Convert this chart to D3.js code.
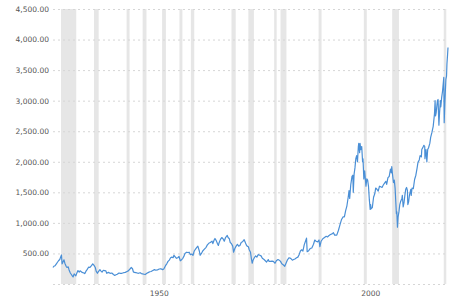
<!DOCTYPE html>
<html>
<head>
<meta charset="utf-8">
<script src="https://cdn.jsdelivr.net/npm/d3@7"></script>
<style>
  body { margin: 0; background: #fff; }
  .axis text { font-family: "DejaVu Sans", Verdana, sans-serif; font-size: 7.5px; fill: #555; }
  .grid line { stroke: #d6d6d6; stroke-dasharray: 2,3; }
</style>
</head>
<body>
<svg id="chart" width="474" height="299"></svg>
<script>
// S&P 500 inflation adjusted (roughly monthly-ish)
const priceYears = [
  1927.7,1927.9,1928.2,1928.5,1928.8,1929.0,1929.3,1929.5,1929.7,1929.85,1930.0,1930.3,1930.5,1930.8,
  1931.0,1931.3,1931.5,1931.8,1932.0,1932.3,1932.45,1932.7,1932.9,1933.1,1933.4,1933.6,1933.9,1934.1,
  1934.4,1934.6,1935.0,1935.2,1935.5,1935.8,1936.1,1936.4,1936.8,1937.1,1937.4,1937.7,1937.9,1938.2,
  1938.4,1938.8,1939.0,1939.3,1939.6,1939.9,1940.2,1940.4,1940.8,1941.2,1941.6,1942.0,1942.3,1942.6,
  1942.9,1943.3,1943.6,1944.0,1944.4,1944.8,1945.2,1945.5,1945.9,1946.2,1946.5,1946.7,1946.9,1947.3,
  1947.6,1947.9,1948.3,1948.6,1948.9,1949.2,1949.5,1949.9,1950.3,1950.6,1950.9,1951.3,1951.7,1952.0,
  1952.4,1952.8,1953.2,1953.6,1953.9,1954.3,1954.6,1954.9,1955.2,1955.5,1955.8,1956.1,1956.3,1956.6,
  1956.9,1957.2,1957.5,1957.8,1958.0,1958.4,1958.7,1958.9,1959.3,1959.6,1959.9,1960.2,1960.5,1960.8,
  1961.1,1961.4,1961.7,1961.95,1962.3,1962.5,1962.8,1963.1,1963.5,1963.9,1964.2,1964.6,1964.9,1965.3,
  1965.5,1965.8,1966.0,1966.3,1966.6,1966.8,1967.0,1967.3,1967.6,1967.9,1968.2,1968.5,1968.9,1969.1,
  1969.4,1969.6,1969.9,1970.2,1970.4,1970.7,1971.0,1971.3,1971.6,1971.9,1972.2,1972.5,1972.9,1973.1,
  1973.4,1973.6,1973.9,1974.1,1974.4,1974.6,1974.8,1975.0,1975.3,1975.6,1975.9,1976.2,1976.6,1976.9,
  1977.2,1977.6,1977.9,1978.2,1978.6,1978.8,1979.1,1979.5,1979.8,1980.2,1980.5,1980.9,1981.2,1981.5,
  1981.8,1982.2,1982.5,1982.8,1983.1,1983.5,1983.9,1984.3,1984.6,1984.9,1985.3,1985.6,1985.9,1986.2,
  1986.5,1986.8,1987.1,1987.4,1987.65,1987.8,1988.1,1988.5,1988.9,1989.3,1989.6,1989.9,1990.3,1990.6,
  1990.8,1991.1,1991.5,1991.9,1992.3,1992.6,1992.9,1993.3,1993.7,1994.0,1994.3,1994.8,1995.2,1995.6,
  1995.9,1996.3,1996.6,1996.9,1997.2,1997.5,1997.7,1997.85,1998.1,1998.4,1998.6,1998.7,1998.9,1999.1,
  1999.3,1999.5,1999.7,1999.9,2000.0,2000.2,2000.3,2000.5,2000.7,2000.9,2001.0,2001.2,2001.4,2001.7,
  2001.9,2002.1,2002.3,2002.5,2002.7,2002.8,2002.9,2003.2,2003.5,2003.8,2004.0,2004.3,2004.6,2004.9,
  2005.2,2005.5,2005.8,2006.1,2006.4,2006.6,2006.9,2007.2,2007.5,2007.7,2007.8,2008.0,2008.2,2008.4,
  2008.6,2008.75,2008.9,2009.0,2009.15,2009.3,2009.5,2009.7,2009.9,2010.2,2010.3,2010.5,2010.7,2010.9,
  2011.1,2011.3,2011.5,2011.6,2011.8,2012.0,2012.3,2012.4,2012.6,2012.9,2013.2,2013.5,2013.8,2014.0,
  2014.3,2014.5,2014.8,2014.9,2015.2,2015.4,2015.6,2015.65,2015.9,2016.1,2016.3,2016.5,2016.8,2017.0,
  2017.3,2017.6,2017.9,2018.05,2018.15,2018.3,2018.6,2018.75,2018.95,2019.1,2019.3,2019.4,2019.6,2019.8,
  2020.0,2020.1,2020.2,2020.35,2020.5,2020.6,2020.75,2020.85,2021.0,2021.1
];
const priceValues = [
  270,290,300,330,360,380,400,440,475,330,350,395,340,290,
  270,280,230,180,160,130,115,165,150,135,190,220,195,215,
  200,190,180,170,210,240,275,270,300,330,305,270,210,175,
  200,235,215,195,225,220,215,175,190,175,180,155,140,150,
  160,180,175,175,185,190,205,215,245,270,250,200,190,185,
  180,175,185,170,165,160,155,175,190,200,205,220,235,225,
  230,245,250,235,245,300,330,370,390,430,440,430,470,445,
  420,430,450,380,390,420,460,500,520,515,520,480,490,470,
  540,570,600,620,540,470,500,540,570,600,640,670,680,700,
  660,720,745,710,660,630,680,730,760,740,700,760,795,760,
  740,680,660,620,520,580,620,650,620,630,680,690,725,690,
  640,620,610,560,520,420,340,390,430,460,440,480,470,460,
  420,400,380,360,400,370,370,375,370,340,380,400,390,370,
  330,310,290,340,390,430,420,390,400,410,430,440,480,540,
  560,540,640,700,750,530,540,580,590,650,720,700,690,720,
  610,700,740,760,780,770,790,810,820,840,800,800,880,980,
  1050,1100,1100,1200,1280,1420,1530,1400,1620,1760,1780,1500,1800,1900,
  2050,2100,2000,2250,2300,2150,2300,2200,2250,2000,2050,1720,1850,1600,
  1720,1700,1600,1380,1220,1300,1230,1250,1420,1480,1570,1550,1520,1600,
  1590,1580,1620,1650,1680,1630,1740,1760,1880,1820,1920,1780,1660,1700,
  1560,1350,1150,1180,930,1100,1180,1300,1350,1400,1450,1260,1330,1450,
  1550,1580,1530,1300,1350,1460,1550,1450,1570,1560,1710,1780,1900,1990,
  2030,2100,2080,2200,2240,2270,2250,2050,2200,2000,2200,2230,2300,2400,
  2480,2580,2780,3000,2750,2800,3000,3020,2600,2800,3000,2900,3050,3150,
  3300,3380,2640,2950,3200,3350,3400,3600,3750,3870
];

// recession bands (start / end, decimal years)
const recessionStart = [1929.6,1937.4,1945.1,1948.9,1953.5,1957.6,1960.3,1969.9,1973.9,1980.0,1981.5,1990.5,2001.2,2007.9,2020.1];
const recessionEnd   = [1933.2,1938.5,1945.8,1949.8,1954.4,1958.3,1961.1,1970.9,1975.2,1980.5,1982.9,1991.2,2001.9,2009.5,2020.35];

const yTicks = [0,500,1000,1500,2000,2500,3000,3500,4000,4500];
const xTickYears = [1950,2000];

const margin = {left: 53, right: 27, top: 9, bottom: 15};
const width = 474, height = 299;

const svg = d3.select("#chart");

const x = d3.scaleLinear()
  .domain([1927.7, 2021.1])
  .range([margin.left, width - margin.right + 1]);

const y = d3.scaleLinear()
  .domain([0, 4500])
  .range([height - margin.bottom, margin.top]);

// recession shading
svg.append("g")
  .selectAll("rect")
  .data(recessionStart.map((s, i) => [s, recessionEnd[i]]))
  .join("rect")
  .attr("x", d => x(d[0]))
  .attr("width", d => Math.max(2.5, x(d[1]) - x(d[0])))
  .attr("y", y(4500))
  .attr("height", y(0) - y(4500))
  .attr("fill", "#e6e6e6");

// grid + y labels
const fmt = d3.format(",.2f");
svg.append("g")
  .attr("class", "axis grid")
  .attr("transform", `translate(${margin.left},0)`)
  .call(d3.axisLeft(y)
    .tickValues(yTicks)
    .tickSize(-(width - margin.right - margin.left))
    .tickPadding(4)
    .tickFormat(d => d === 0 ? "" : fmt(d)))
  .call(g => g.select(".domain").remove());

// x labels (sit a bit right of the year mark, like the original)
svg.append("g")
  .attr("class", "axis")
  .attr("transform", `translate(0,${y(0)})`)
  .call(d3.axisBottom(x)
    .tickValues(xTickYears)
    .tickSize(0)
    .tickPadding(7)
    .tickFormat(d3.format("d")))
  .call(g => g.select(".domain").remove())
  .selectAll("text").attr("dx", 11.5);

const line = d3.line()
  .x((d, i) => x(priceYears[i]))
  .y(d => y(d));

svg.append("path")
  .datum(priceValues)
  .attr("fill", "none")
  .attr("stroke", "#4a8fd6")
  .attr("stroke-width", 1.2)
  .attr("stroke-linejoin", "round")
  .attr("d", line);
</script>
</body>
</html>
